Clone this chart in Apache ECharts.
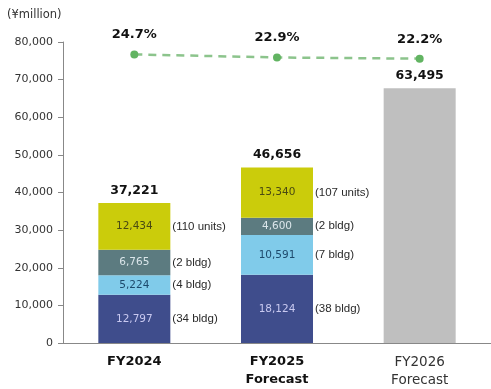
<!DOCTYPE html>
<html>
<head>
<meta charset="utf-8">
<script src="https://cdn.jsdelivr.net/npm/echarts@6/dist/echarts.min.js"></script>
<style>html,body{margin:0;padding:0;background:#fff;}#c{width:491px;height:389px;}</style>
</head>
<body>
<div id="c"></div>
<script>
const categories = ['FY2024', 'FY2025\nForecast', 'FY2026\nForecast'];
const yTicks = [0, 10000, 20000, 30000, 40000, 50000, 60000, 70000, 80000];
const rental = [12797, 18124, null];
const officeA = [5224, 10591, null];
const officeB = [6765, 4600, null];
const condo = [12434, 13340, null];
const fy2026Bar = [null, null, 67700];
const rentalUnits = ['(34 bldg)', '(38 bldg)', ''];
const officeAUnits = ['(4 bldg)', '(7 bldg)', ''];
const officeBUnits = ['(2 bldg)', '(2 bldg)', ''];
const condoUnits = ['(110 units)', '(107 units)', ''];
const totalLabels = ['37,221', '46,656', '63,495'];
const ratio = [24.7, 22.9, 22.2];

const fmt = v => v.toLocaleString('en-US');
const BW = 72;
const totals = categories.map((c, i) => [rental, officeA, officeB, condo, fy2026Bar]
  .reduce((s, a) => s + (a[i] || 0), 0));

function seg(name, data, color, txtColor) {
  return {
    name, type: 'bar', stack: 'a', data, barWidth: BW,
    itemStyle: { color },
    label: { show: true, position: 'inside', color: txtColor, fontFamily: 'DejaVu Sans', fontSize: 10.5,
      formatter: p => p.value == null ? '' : fmt(p.value) }
  };
}
function unit(name, data, units) {
  return {
    name: name + 'u', type: 'bar', stack: 'b', data, barWidth: BW, barGap: '-100%',
    itemStyle: { color: 'rgba(0,0,0,0)' }, silent: true,
    label: { show: true, position: 'right', distance: 2, color: '#2a2a2a', fontFamily: 'Liberation Sans', fontSize: 11.5,
      formatter: p => units[p.dataIndex] }
  };
}

const chart = echarts.init(document.getElementById('c'), null, { renderer: 'canvas' });
chart.setOption({
  animation: false,
  backgroundColor: '#fff',
  grid: { left: 63, top: 42, bottom: 46, width: 432 },
  graphic: [{ type: 'text', left: 7, top: 9, style: { text: '(¥million)', fontFamily: 'DejaVu Sans', fontSize: 11.5, fill: '#333' } }],
  xAxis: {
    type: 'category',
    data: categories.map((c, i) => ({ value: c, textStyle: { fontWeight: i < 2 ? 'bold' : 'normal', color: i < 2 ? '#111' : '#333', fontSize: i < 2 ? 13 : 13.5 } })),
    axisLine: { lineStyle: { color: '#888', width: 1 } },
    axisTick: { show: false },
    axisLabel: { fontFamily: 'DejaVu Sans', margin: 10, lineHeight: 18 }
  },
  yAxis: [{
    type: 'value', min: yTicks[0], max: yTicks[yTicks.length - 1], interval: 10000,
    axisLine: { show: true, lineStyle: { color: '#888' } },
    axisTick: { show: true, length: 5, lineStyle: { color: '#888' } },
    splitLine: { show: false },
    axisLabel: { fontFamily: 'DejaVu Sans', fontSize: 11, color: '#333', margin: 10, formatter: v => fmt(v) }
  }, {
    type: 'value', min: -145, max: 32, show: false, splitLine: { show: false }
  }],
  series: [
    seg('rental', rental, '#3f4d8c', '#c9c9f0'),
    seg('officeA', officeA, '#80cbea', '#1d4a6c'),
    seg('officeB', officeB, '#5c7b80', '#dbe6ea'),
    seg('condo', condo, '#cbcc0b', '#4a4a12'),
    { name: 'fy26', type: 'bar', stack: 'a', data: fy2026Bar, barWidth: BW, itemStyle: { color: '#bfbfbf' } },
    unit('rental', rental, rentalUnits),
    unit('officeA', officeA, officeAUnits),
    unit('officeB', officeB, officeBUnits),
    unit('condo', condo, condoUnits),
    {
      name: 'total', type: 'scatter', data: totals, symbolSize: 0, silent: true,
      itemStyle: { opacity: 1 },
      label: { show: true, position: 'top', distance: 6, color: '#111', fontWeight: 'bold', fontFamily: 'DejaVu Sans', fontSize: 12.5,
        formatter: p => totalLabels[p.dataIndex] }
    },
    {
      name: 'ratio', type: 'line', yAxisIndex: 1, data: ratio, z: 5,
      symbol: 'circle', symbolSize: 8,
      itemStyle: { color: '#62b462' },
      lineStyle: { color: '#8cc48c', width: 2.5, type: [8, 6] },
      label: { show: true, position: 'top', distance: 9, color: '#111', fontWeight: 'bold', fontFamily: 'DejaVu Sans', fontSize: 13,
        formatter: p => p.value.toFixed(1) + '%' }
    }
  ]
});
</script>
</body>
</html>
